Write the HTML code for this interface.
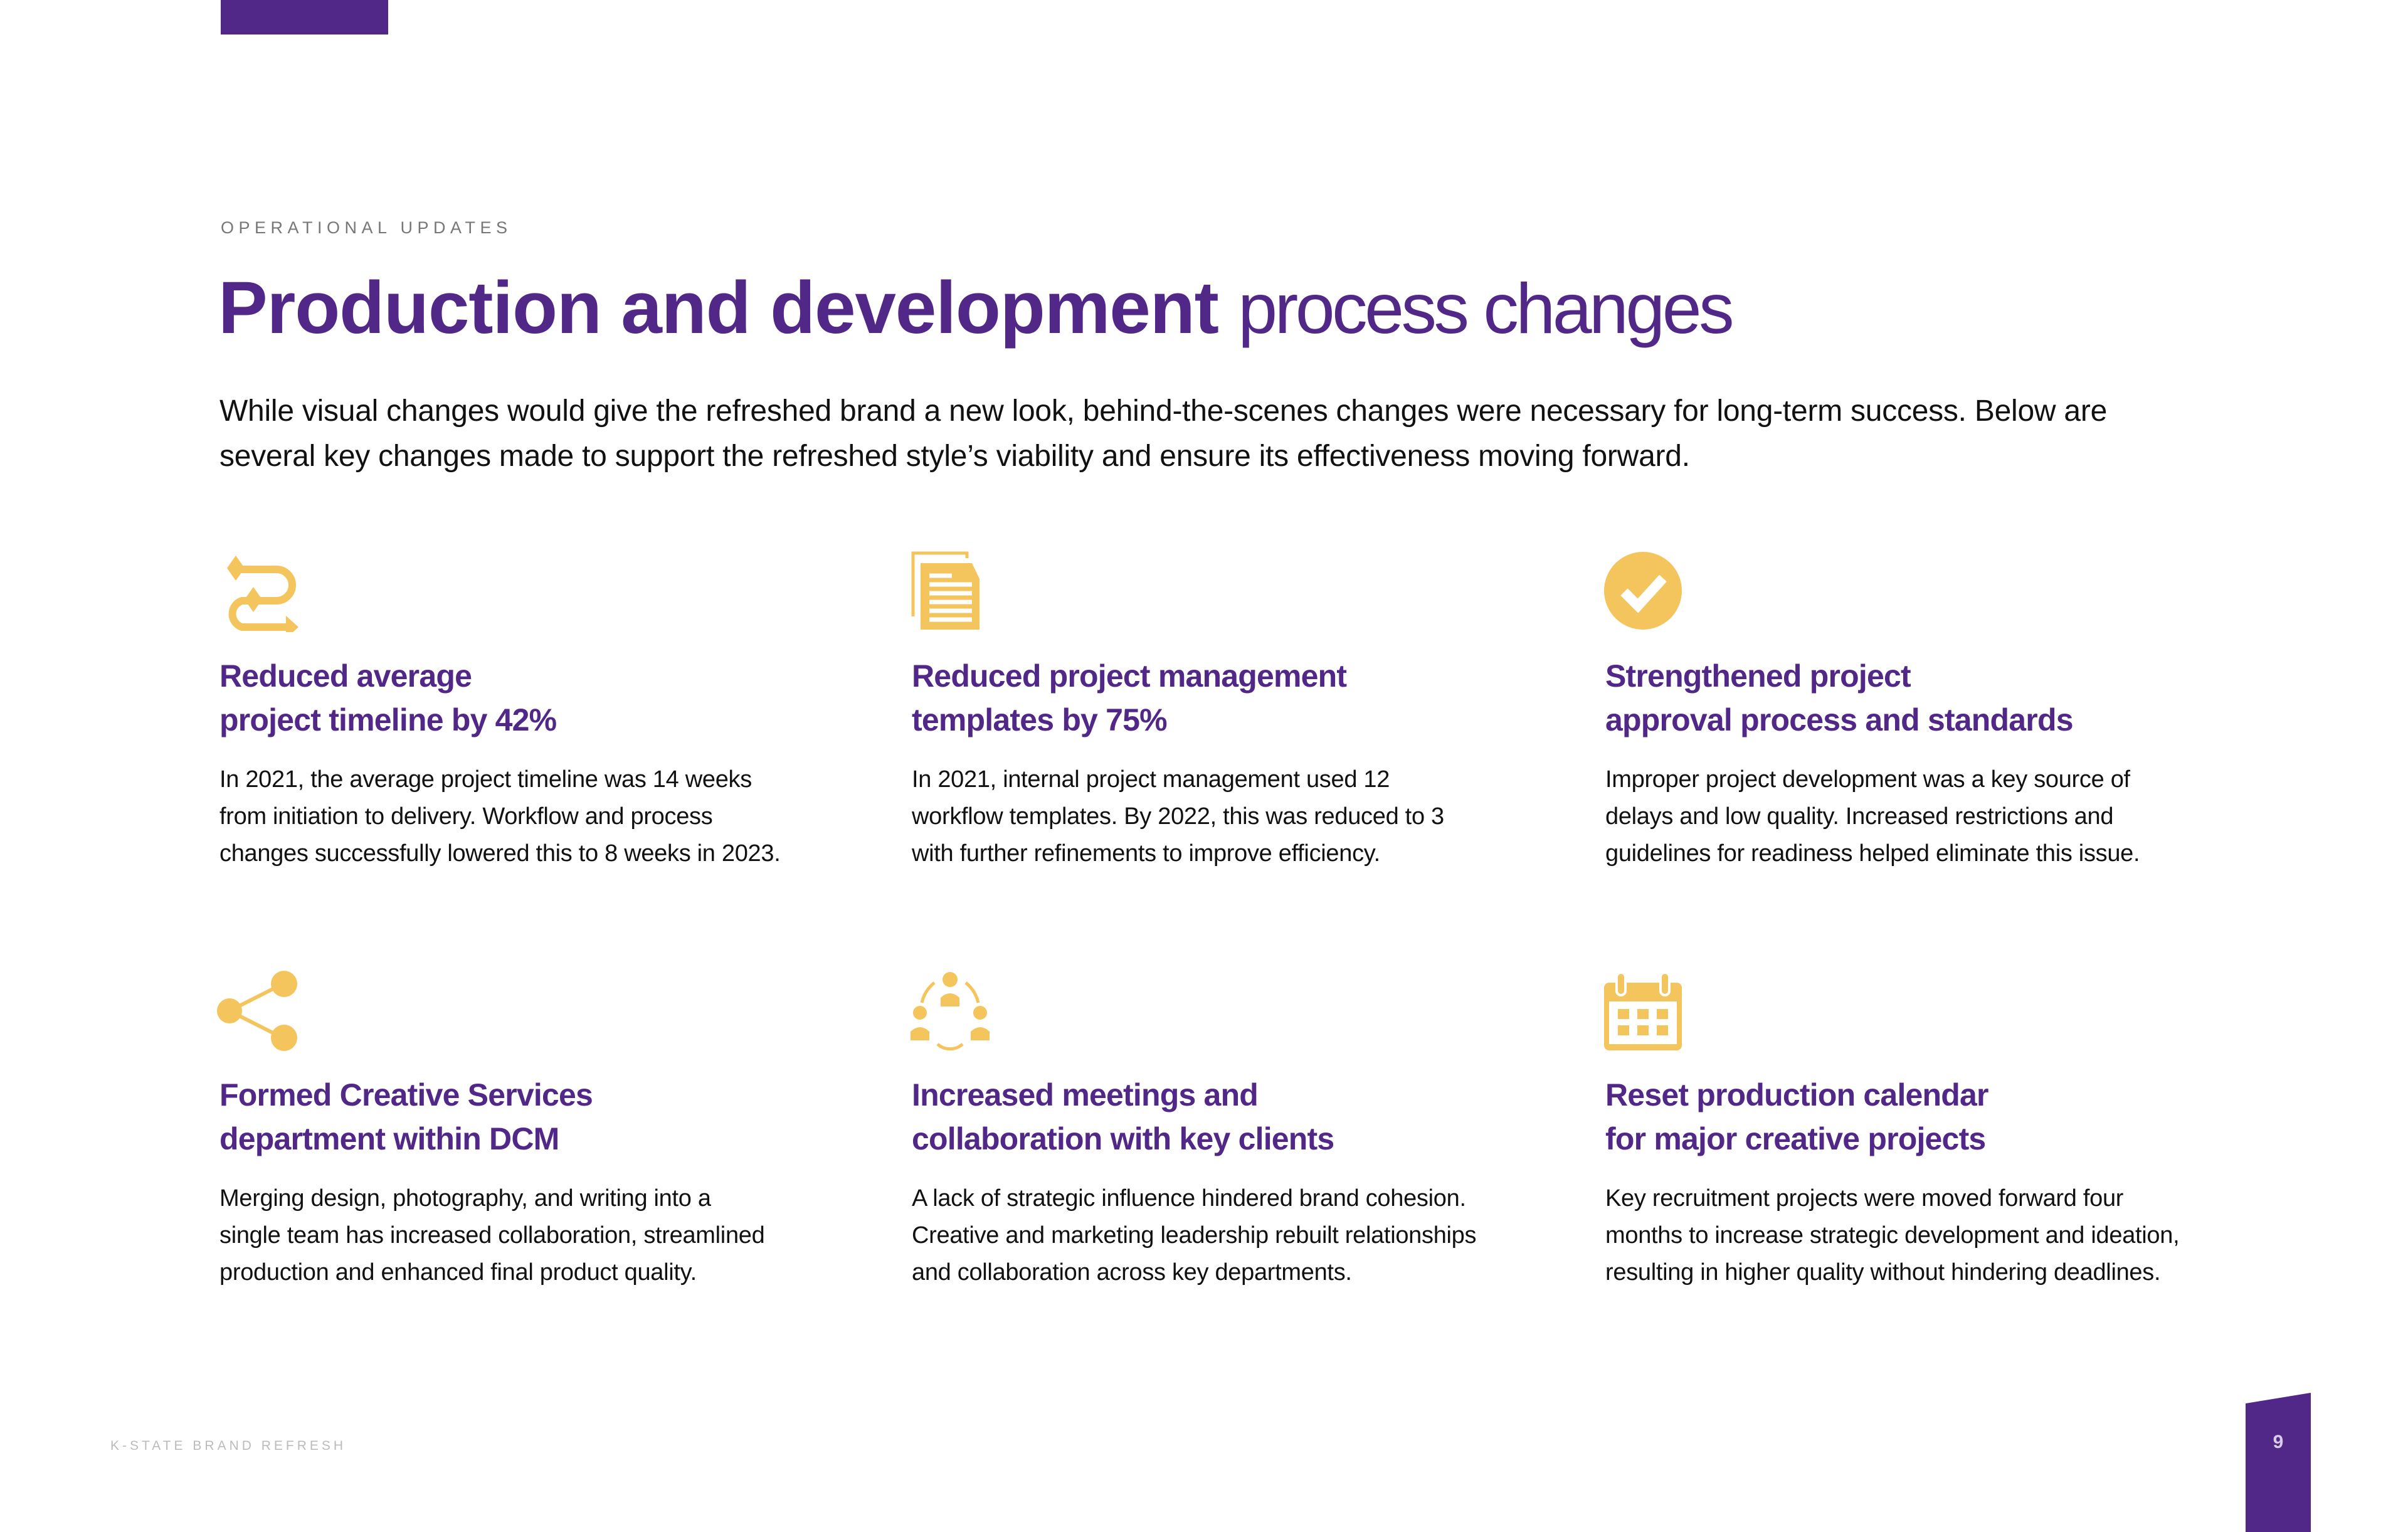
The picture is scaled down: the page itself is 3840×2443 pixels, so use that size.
<!DOCTYPE html>
<html><head><meta charset="utf-8"><style>
html,body{margin:0;padding:0;background:#fff}
body{width:3840px;height:2443px;position:relative;overflow:hidden;font-family:"Liberation Sans",sans-serif}
.a{position:absolute;white-space:nowrap}
.h{font-weight:bold;color:#512888;font-size:50px;line-height:70px;letter-spacing:-0.8px}
.b{color:#111;font-size:38px;line-height:59px;letter-spacing:-0.3px}
.ic{position:absolute;width:130px;height:130px}
</style></head><body>
<div class="a" style="left:352px;top:0;width:267px;height:55px;background:#512888"></div>
<div class="a" style="left:352px;top:348px;font-size:27px;line-height:30px;letter-spacing:7.5px;color:#777">OPERATIONAL UPDATES</div>
<div class="a" style="left:348px;top:428px;font-size:118px;line-height:126px;color:#512888;letter-spacing:-1.2px"><b>Production and development</b> <span style="font-weight:normal;font-size:113px;letter-spacing:-4.5px">process changes</span></div>
<div class="a" style="left:350px;top:620px;font-size:48px;line-height:72px;color:#111;letter-spacing:-0.25px">While visual changes would give the refreshed brand a new look, behind-the-scenes changes were necessary for long-term success. Below are<br>several key changes made to support the refreshed style’s viability and ensure its effectiveness moving forward.</div>

<!-- icons -->
<svg class="ic" style="left:346px;top:878px" viewBox="0 0 130 130"><g fill="none" stroke="#F4C45D" stroke-width="12"><path d="M30 30 H95 A25 25 0 0 1 95 80 H40 A22 22 0 0 0 40 122 H110"/></g><g fill="#F4C45D"><polygon points="16,28 30,8 44,28 30,48"/><polygon points="44,78 58,58 72,78 58,98"/><polygon points="110,104 130,122 110,140"/></g></svg>
<svg class="ic" style="left:1450px;top:878px" viewBox="0 0 130 130"><path d="M6 105 V4 H92 V12" fill="none" stroke="#F4C45D" stroke-width="5"/><path d="M18 20 H100 L112 45 V126 H18 Z" fill="#F4C45D"/><g stroke="#fff" stroke-width="7"><line x1="32" y1="40" x2="68" y2="40"/><line x1="32" y1="54" x2="100" y2="54"/><line x1="32" y1="68" x2="100" y2="68"/><line x1="32" y1="82" x2="100" y2="82"/><line x1="32" y1="96" x2="100" y2="96"/><line x1="32" y1="110" x2="100" y2="110"/></g></svg>
<svg class="ic" style="left:2556px;top:878px" viewBox="0 0 130 130"><circle cx="64" cy="64" r="62" fill="#F4C45D"/><path d="M34 66 L56 88 L96 44" fill="none" stroke="#fff" stroke-width="16"/></svg>
<svg class="ic" style="left:346px;top:1547px" viewBox="0 0 130 130"><g stroke="#F4C45D" stroke-width="6"><line x1="20" y1="65" x2="105" y2="22"/><line x1="20" y1="65" x2="105" y2="108"/></g><g fill="#F4C45D"><circle cx="20" cy="65" r="20"/><circle cx="107" cy="22" r="21"/><circle cx="107" cy="108" r="21"/></g></svg>
<svg class="ic" style="left:1450px;top:1547px" viewBox="0 0 130 130"><g fill="#F4C45D"><circle cx="65" cy="15" r="12"/><path d="M50 58 V44 Q65 30 80 44 V58Z"/><circle cx="17" cy="68" r="11"/><path d="M2 112 V98 Q17 84 32 98 V112Z"/><circle cx="113" cy="68" r="11"/><path d="M98 112 V98 Q113 84 128 98 V112Z"/></g><g fill="none" stroke="#F4C45D" stroke-width="5"><path d="M40 20 A58 58 0 0 0 20 52"/><path d="M90 20 A58 58 0 0 1 110 52"/><path d="M45 118 A30 30 0 0 0 85 118"/></g></svg>
<svg class="ic" style="left:2556px;top:1547px" viewBox="0 0 130 130"><rect x="2" y="20" width="124" height="108" rx="8" fill="#F4C45D"/><rect x="10" y="50" width="108" height="68" fill="#fff"/><g fill="#F4C45D"><rect x="24" y="62" width="18" height="16"/><rect x="55" y="62" width="18" height="16"/><rect x="86" y="62" width="18" height="16"/><rect x="24" y="88" width="18" height="16"/><rect x="55" y="88" width="18" height="16"/><rect x="86" y="88" width="18" height="16"/></g><g fill="#F4C45D" stroke="#fff" stroke-width="4"><rect x="22" y="4" width="14" height="36" rx="7"/><rect x="92" y="4" width="14" height="36" rx="7"/></g></svg>

<!-- row 1 -->
<div class="a h" style="left:350px;top:1043px">Reduced average<br>project timeline by 42%</div>
<div class="a b" style="left:350px;top:1214px">In 2021, the average project timeline was 14 weeks<br>from initiation to delivery. Workflow and process<br>changes successfully lowered this to 8 weeks in 2023.</div>
<div class="a h" style="left:1454px;top:1043px">Reduced project management<br>templates by 75%</div>
<div class="a b" style="left:1454px;top:1214px">In 2021, internal project management used 12<br>workflow templates. By 2022, this was reduced to 3<br>with further refinements to improve efficiency.</div>
<div class="a h" style="left:2560px;top:1043px">Strengthened project<br>approval process and standards</div>
<div class="a b" style="left:2560px;top:1214px">Improper project development was a key source of<br>delays and low quality. Increased restrictions and<br>guidelines for readiness helped eliminate this issue.</div>

<!-- row 2 -->
<div class="a h" style="left:350px;top:1711px">Formed Creative Services<br>department within DCM</div>
<div class="a b" style="left:350px;top:1882px">Merging design, photography, and writing into a<br>single team has increased collaboration, streamlined<br>production and enhanced final product quality.</div>
<div class="a h" style="left:1454px;top:1711px">Increased meetings and<br>collaboration with key clients</div>
<div class="a b" style="left:1454px;top:1882px">A lack of strategic influence hindered brand cohesion.<br>Creative and marketing leadership rebuilt relationships<br>and collaboration across key departments.</div>
<div class="a h" style="left:2560px;top:1711px">Reset production calendar<br>for major creative projects</div>
<div class="a b" style="left:2560px;top:1882px">Key recruitment projects were moved forward four<br>months to increase strategic development and ideation,<br>resulting in higher quality without hindering deadlines.</div>

<div class="a" style="left:176px;top:2293px;font-size:21px;line-height:26px;letter-spacing:5px;color:#bbb">K-STATE BRAND REFRESH</div>
<svg class="a" style="left:3580px;top:2220px" width="110" height="223" viewBox="0 0 110 223"><polygon points="1,18 105,1 105,223 1,223" fill="#512888"/><text x="53" y="89" text-anchor="middle" font-family="Liberation Sans,sans-serif" font-size="30" font-weight="bold" fill="#d8cce8">9</text></svg>
</body></html>
